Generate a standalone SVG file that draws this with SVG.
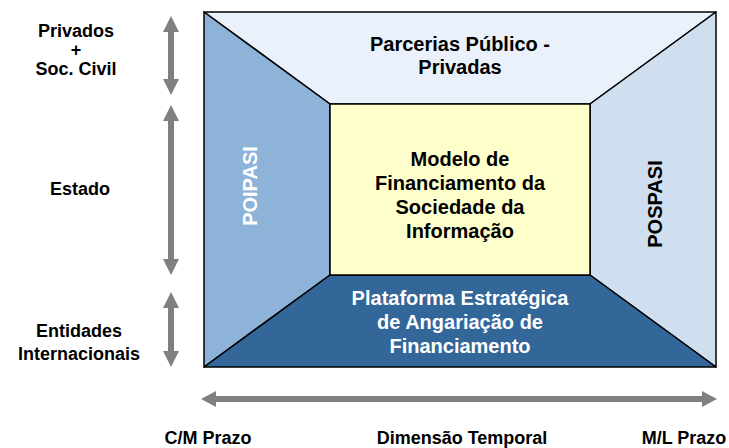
<svg xmlns="http://www.w3.org/2000/svg" width="729" height="448" viewBox="0 0 729 448">
<style>
.t{font-family:"Liberation Sans",Arial,sans-serif;font-weight:bold;text-anchor:middle}
.lbl{font-size:18px;fill:#000}
.in{font-size:20px}
.face{stroke:#000;stroke-width:1.5;stroke-linejoin:round}
.arr{fill:#808080}
</style>
<rect width="729" height="448" fill="#fff"/>
<g id="connectors">
<polygon class="arr" points="171,16 179,32 174,32 174,79 179,79 171,95 163,79 168,79 168,32 163,32"/>
<polygon class="arr" points="171,105 179,121 174,121 174,259 179,259 171,275 163,259 168,259 168,121 163,121"/>
<polygon class="arr" points="171,292 179,308 174,308 174,351 179,351 171,367 163,351 168,351 168,308 163,308"/>
<polygon class="arr" points="201,399 216,391 216,396 702,396 702,391 717,399 702,407 702,402 216,402 216,407"/>
</g>
<g id="top">
<polygon class="face" fill="#EAF1FA" points="204,12 716,12 590,104 330,104"/>
<text class="t in" x="460" y="51">Parcerias Público -</text>
<text class="t in" x="460" y="74">Privadas</text>
</g>
<g id="left">
<polygon class="face" fill="#8DB3D9" points="204,12 330,104 330,275 204,367"/>
<text class="t in" fill="#fff" transform="translate(257,186) rotate(-90)">POIPASI</text>
</g>
<g id="right">
<polygon class="face" fill="#CFDFEF" points="716,12 716,367 590,275 590,104"/>
<text class="t in" fill="#000" transform="translate(662,204) rotate(-90)">POSPASI</text>
</g>
<g id="bottom">
<polygon class="face" fill="#336699" points="204,367 330,275 590,275 716,367"/>
<text class="t in" fill="#fff" x="460" y="305">Plataforma Estratégica</text>
<text class="t in" fill="#fff" x="460" y="329">de Angariação de</text>
<text class="t in" fill="#fff" x="460" y="353">Financiamento</text>
</g>
<g id="center">
<rect class="face" fill="#FFFFCC" x="330" y="104" width="260" height="171"/>
<text class="t in" x="460" y="166">Modelo de</text>
<text class="t in" x="460" y="190">Financiamento da</text>
<text class="t in" x="460" y="214">Sociedade da</text>
<text class="t in" x="460" y="238">Informação</text>
</g>
<g id="labels">
<text class="t lbl" x="76" y="37">Privados</text>
<text class="t lbl" x="76" y="56">+</text>
<text class="t lbl" x="76" y="75">Soc. Civil</text>
<text class="t lbl" x="80" y="195">Estado</text>
<text class="t lbl" x="79" y="337">Entidades</text>
<text class="t lbl" x="79" y="360">Internacionais</text>
<text class="t lbl" x="208" y="444">C/M Prazo</text>
<text class="t lbl" x="462" y="444">Dimensão Temporal</text>
<text class="t lbl" x="684" y="444">M/L Prazo</text>
</g>
</svg>
